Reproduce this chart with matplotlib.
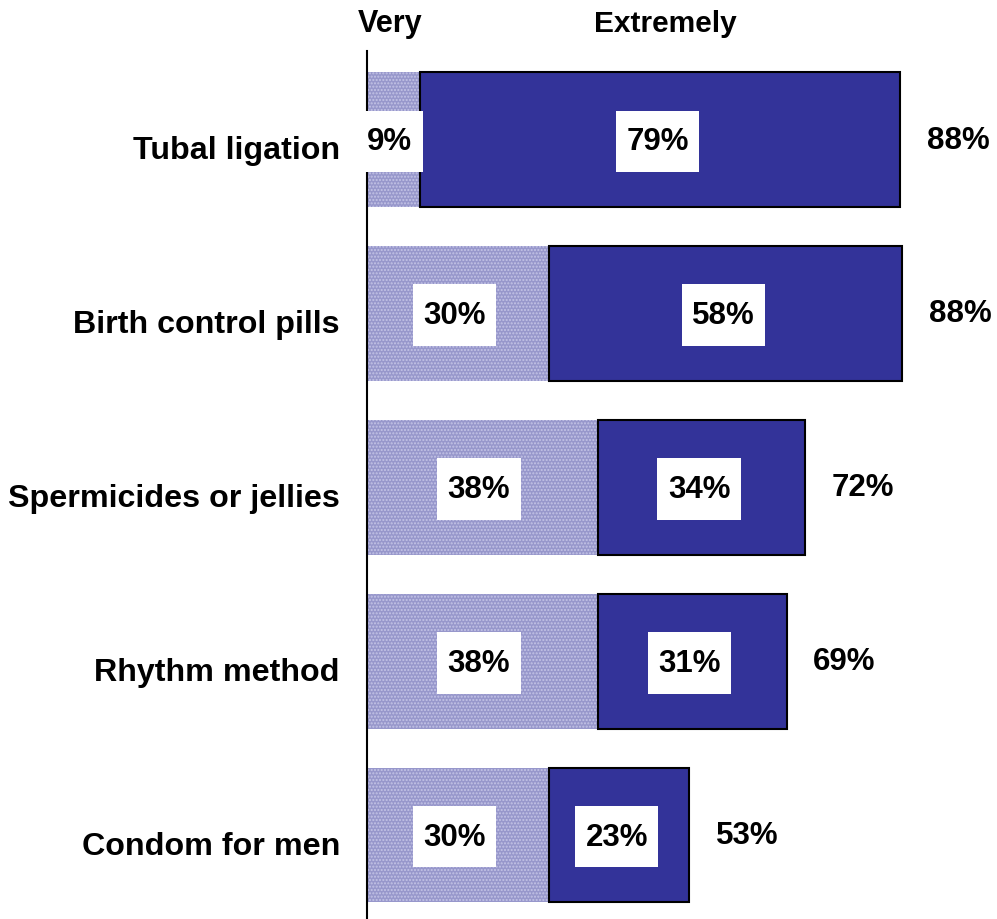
import matplotlib.pyplot as plt
import matplotlib as mpl
from matplotlib.path import Path
from matplotlib.transforms import ScaledTranslation

categories = ["Tubal ligation", "Birth control pills", "Spermicides or jellies",
              "Rhythm method", "Condom for men"]
very = [8.7, 30, 38, 38, 30]
extremely = [79, 58, 34, 31, 23]
very_labels = ["9%", "30%", "38%", "38%", "30%"]
extremely_labels = ["79%", "58%", "34%", "31%", "23%"]
total_labels = ["88%", "88%", "72%", "69%", "53%"]

plt.rcParams['font.family'] = ['Liberation Sans', 'DejaVu Sans']
plt.rcParams['font.weight'] = 'bold'
mpl.rcParams['hatch.color'] = '#c4c4e6'
mpl.rcParams['hatch.linewidth'] = 1.0


def label_box(x0, y0, width, height, mutation_size):
    # white box, a bit taller than wide padding
    px = 0.33 * mutation_size
    py = 0.5 * mutation_size
    x0, y0 = x0 - px, y0 - py
    x1, y1 = x0 + width + 2 * px, y0 + height + 2 * py
    return Path([(x0, y0), (x1, y0), (x1, y1), (x0, y1), (x0, y0)], closed=True)


fig = plt.figure(figsize=(9.97, 9.20), dpi=100)
ax = fig.add_axes([367 / 997, 0, 630 / 997, 868 / 920])

y = list(range(len(categories)))
ax.barh(y, very, height=0.776, color='#9797cb', hatch='.....', linewidth=0)
ax.barh(y, extremely, left=very, height=0.776, color='#333399',
        edgecolor='black', linewidth=1.5)

box = dict(boxstyle=label_box, facecolor='white', edgecolor='none')
for i in y:
    ax.text(very[i] / 2 - 0.6, i + 0.01, very_labels[i], ha='center', va='center',
            fontsize=22.5, fontweight='bold', bbox=box)
    ax.text(very[i] + extremely[i] / 2 - 0.4, i + 0.01, extremely_labels[i],
            ha='center', va='center', fontsize=22.5, fontweight='bold', bbox=box)
    ax.text(very[i] + extremely[i] + 4.4, i, total_labels[i], ha='left',
            va='center', fontsize=22.5, fontweight='bold')

ax.set_xlim(0, 103.6)
ax.set_ylim(4.483, -0.509)
ax.set_yticks(y)
ax.set_yticklabels(categories, fontsize=23.2, fontweight='bold')
ax.tick_params(axis='y', length=0, pad=19.5)
shift = ScaledTranslation(0, -0.07, fig.dpi_scale_trans)
for lbl in ax.get_yticklabels():
    lbl.set_transform(lbl.get_transform() + shift)
ax.set_xticks([])
for s in ['top', 'right', 'bottom']:
    ax.spines[s].set_visible(False)
ax.spines['left'].set_linewidth(1.5)

fig.text(390 / 997, 1 - 24 / 920, "Very", ha='center', va='center',
         fontsize=22, fontweight='bold')
fig.text(665 / 997, 1 - 24 / 920, "Extremely", ha='center', va='center',
         fontsize=21.5, fontweight='bold')

fig.savefig("out.png", dpi=100)
